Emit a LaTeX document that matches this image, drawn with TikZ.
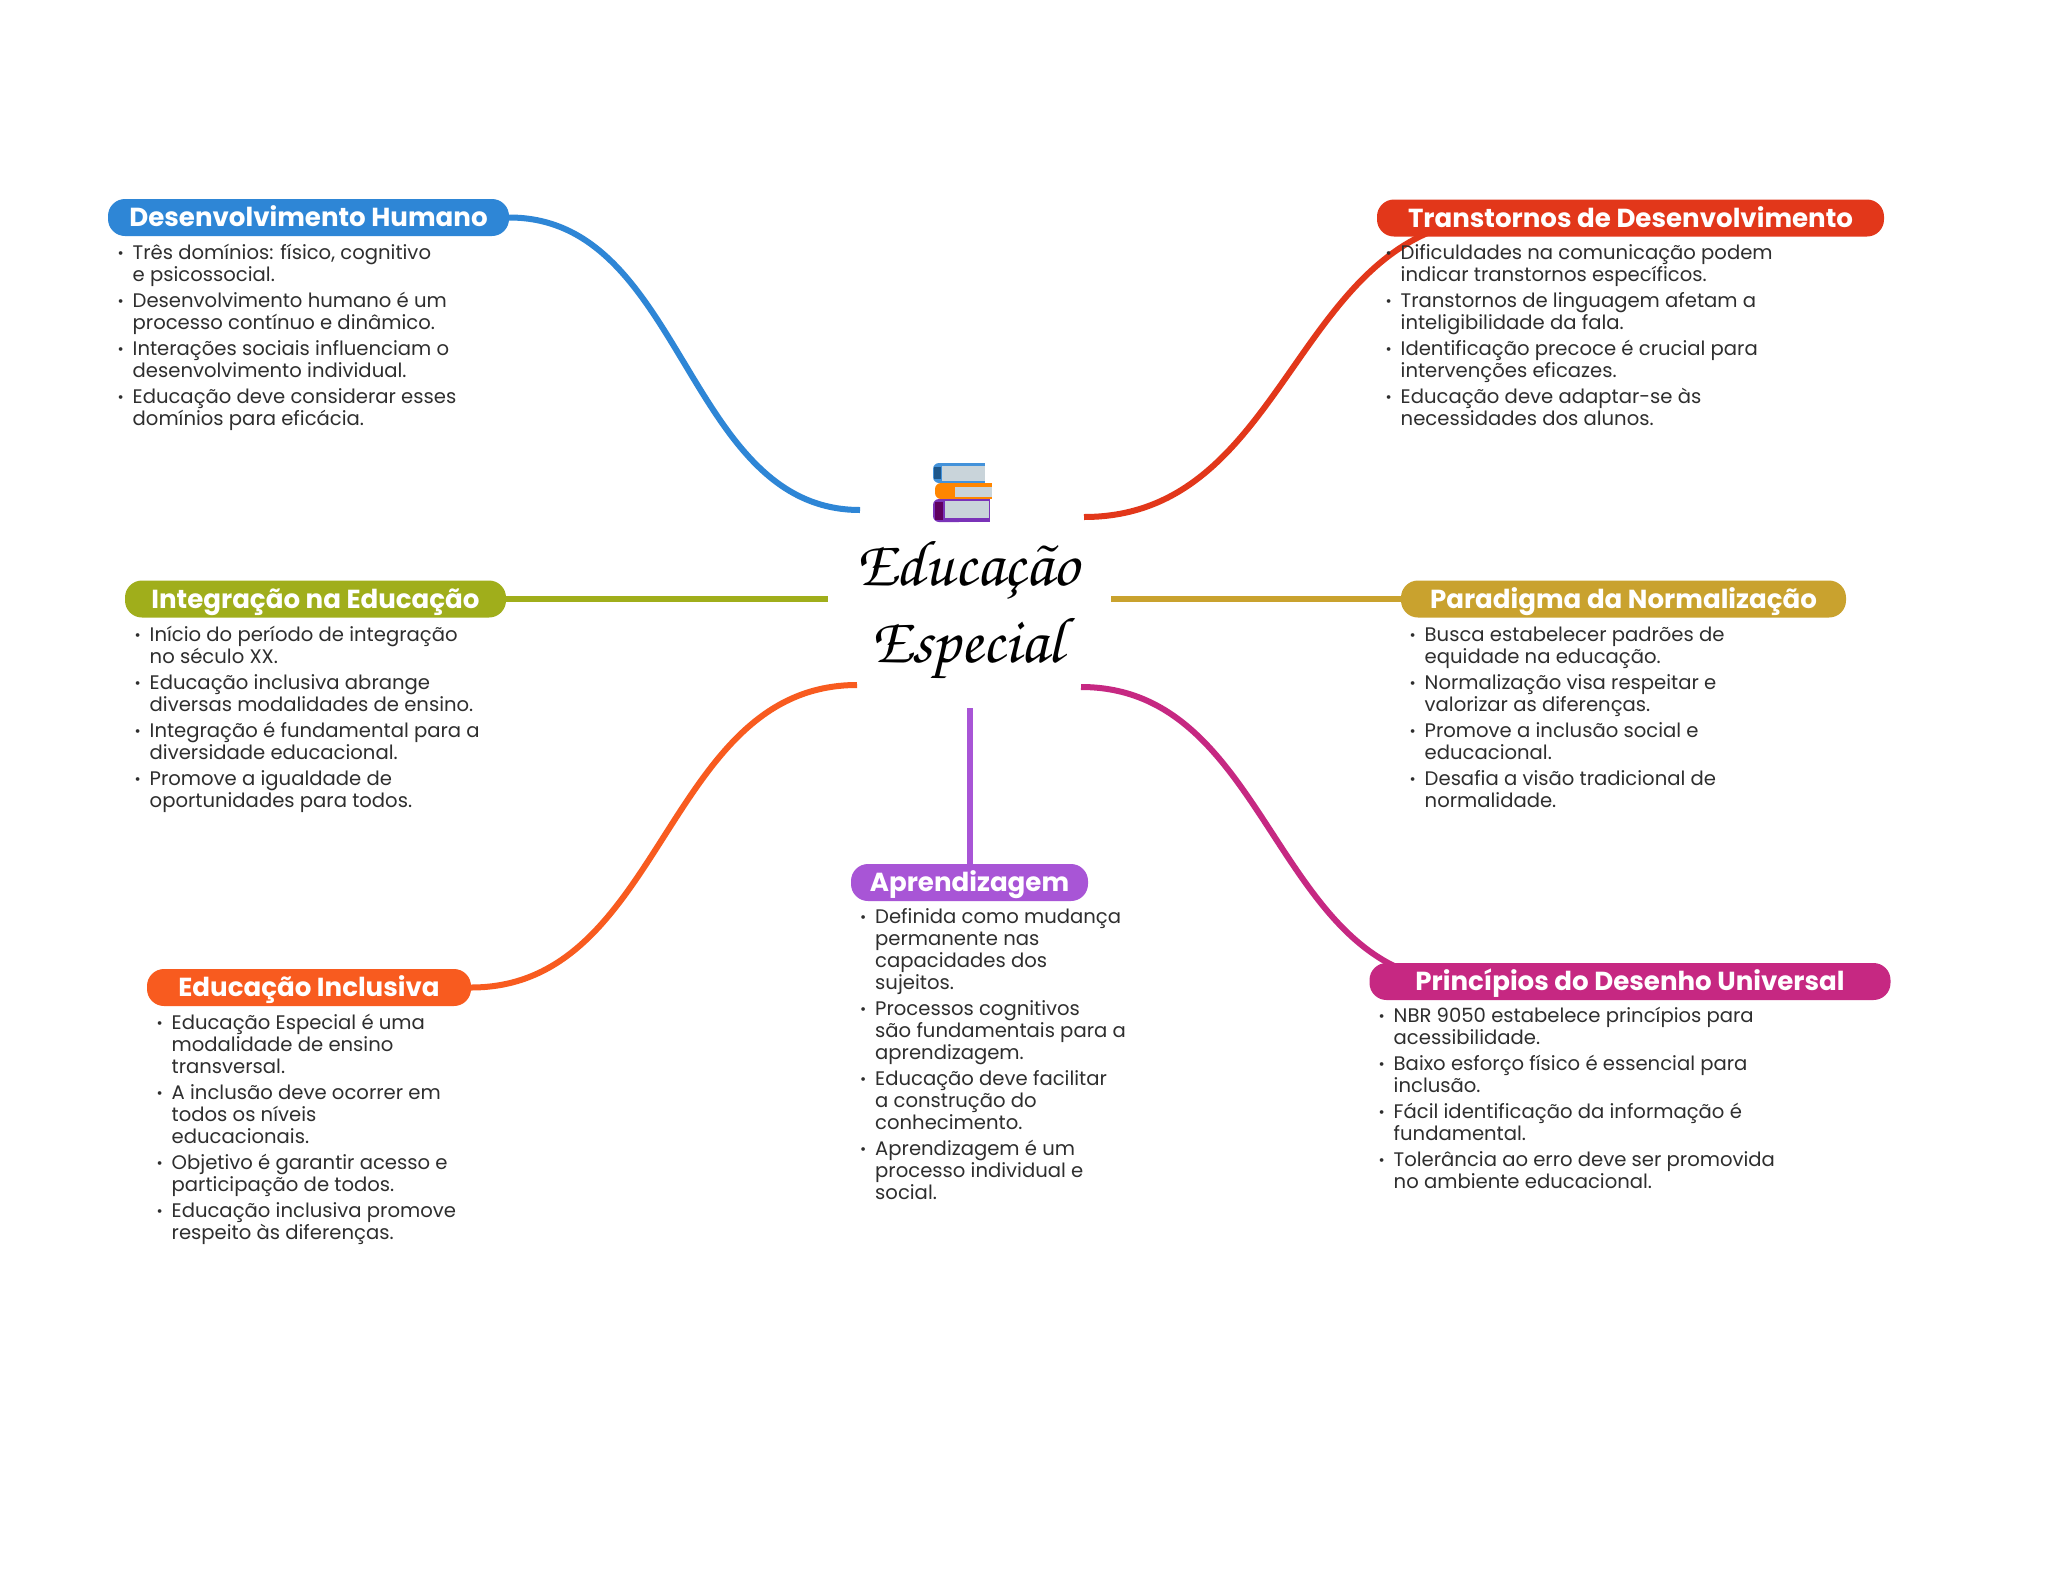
\documentclass[tikz,border=0pt]{standalone}
\usepackage{fontspec}
\setmainfont{Poppins}
\newfontfamily\titlefont{TeX Gyre Chorus}
\usetikzlibrary{backgrounds}
\definecolor{cblue}{HTML}{2E86D6}
\definecolor{cred}{HTML}{E2371A}
\definecolor{colive}{HTML}{A0AE1B}
\definecolor{cgold}{HTML}{C9A22E}
\definecolor{corange}{HTML}{F85B1F}
\definecolor{cpurple}{HTML}{A855D6}
\definecolor{cmag}{HTML}{C62882}
\definecolor{ctext}{HTML}{2E2E2E}
\definecolor{cpage}{HTML}{C9D4DA}
\newcommand{\bu}{\llap{\raisebox{1.2pt}{\fontsize{15}{15}\selectfont •}\hspace{9pt}}}
\newcommand{\fl}{\rule{0pt}{16pt}}
\newcommand{\nx}{\\[4pt]}
\tikzset{
  head/.style={fill=#1,rounded corners=17pt,inner sep=0pt,minimum height=37pt,text=white,
    font=\fontsize{26.1}{30}\selectfont\bfseries,text height=23pt,text depth=5pt},
  body/.style={anchor=north west,inner sep=0pt,align=left,text=ctext,font=\fontsize{19.62}{22}\selectfont},
  conn/.style={draw=#1,line width=6pt,line cap=butt},
  ttl/.style={inner sep=0pt,anchor=base,font=\titlefont\fontsize{65}{77}\selectfont,text=black}
}
\begin{document}
\begin{tikzpicture}[x=1pt,y=-1pt]
\useasboundingbox (0,0) rectangle (2048,1569);

% central title
\node[ttl] (t1) at (967,585) {Educação};
\node[ttl] (t2) at (967,662) {Especial};

% book icon
\fill[cblue!90!white,rounded corners=6pt] (933,463) rectangle (960,483);
\fill[cblue!90!white] (945,463) rectangle (985,483);
\fill[cblue!65!black] (934,467) rectangle (941,479);
\fill[cpage] (942,466) rectangle (985,481);
\fill[orange!95!yellow,rounded corners=6pt] (935,483) rectangle (965,499);
\fill[orange!95!yellow] (950,483) rectangle (992,499);
\fill[cpage] (955,487) rectangle (992,497);
\fill[violet!70!blue!80!white,rounded corners=6pt] (933,499) rectangle (965,522);
\fill[violet!70!blue!80!white] (950,499) rectangle (990,522);
\fill[violet!75!black] (935,502) rectangle (943,520);
\fill[cpage] (945,501) rectangle (989,518);

% heads
\node[head=cblue,minimum width=401pt] (hb) at (308.5,217.5) {Desenvolvimento Humano};
\node[head=cred,minimum width=507pt] (hr) at (1630.5,218) {Transtornos de Desenvolvimento};
\node[head=colive,minimum width=381pt] (ho) at (315.5,599) {Integração na Educação};
\node[head=cgold,minimum width=445pt] (hg) at (1623.5,599) {Paradigma da Normalização};
\node[head=corange,minimum width=324pt] (hi) at (309,987.5) {Educação Inclusiva};
\node[head=cpurple,minimum width=237pt] (hp) at (969.5,882.5) {Aprendizagem};
\node[head=cmag,minimum width=521pt] (hm) at (1630,981.5) {Princípios do Desenho Universal};

% bodies
\node[body] (tb) at (132.5,243) {\fl\bu Três domínios: físico, cognitivo\\e psicossocial.\nx
\bu Desenvolvimento humano é um\\processo contínuo e dinâmico.\nx
\bu Interações sociais influenciam o\\desenvolvimento individual.\nx
\bu Educação deve considerar esses\\domínios para eficácia.};
\node[body] (tr) at (1400.5,243) {\fl\bu Dificuldades na comunicação podem\\indicar transtornos específicos.\nx
\bu Transtornos de linguagem afetam a\\inteligibilidade da fala.\nx
\bu Identificação precoce é crucial para\\intervenções eficazes.\nx
\bu Educação deve adaptar-se às\\necessidades dos alunos.};
\node[body] (to) at (149.5,625) {\fl\bu Início do período de integração\\no século XX.\nx
\bu Educação inclusiva abrange\\diversas modalidades de ensino.\nx
\bu Integração é fundamental para a\\diversidade educacional.\nx
\bu Promove a igualdade de\\oportunidades para todos.};
\node[body] (tg) at (1424.5,625) {\fl\bu Busca estabelecer padrões de\\equidade na educação.\nx
\bu Normalização visa respeitar e\\valorizar as diferenças.\nx
\bu Promove a inclusão social e\\educacional.\nx
\bu Desafia a visão tradicional de\\normalidade.};
\node[body] (ti) at (171.5,1013) {\fl\bu Educação Especial é uma\\modalidade de ensino\\transversal.\nx
\bu A inclusão deve ocorrer em\\todos os níveis\\educacionais.\nx
\bu Objetivo é garantir acesso e\\participação de todos.\nx
\bu Educação inclusiva promove\\respeito às diferenças.};
\node[body] (tp) at (875,907.5) {\fl\bu Definida como mudança\\permanente nas\\capacidades dos\\sujeitos.\nx
\bu Processos cognitivos\\são fundamentais para a\\aprendizagem.\nx
\bu Educação deve facilitar\\a construção do\\conhecimento.\nx
\bu Aprendizagem é um\\processo individual e\\social.};
\node[body] (tm) at (1393.5,1006) {\fl\bu NBR 9050 estabelece princípios para\\acessibilidade.\nx
\bu Baixo esforço físico é essencial para\\inclusão.\nx
\bu Fácil identificação da informação é\\fundamental.\nx
\bu Tolerância ao erro deve ser promovida\\no ambiente educacional.};

% connector ends around the centre
\coordinate (cb) at (860,510);
\coordinate (cr) at (1084,517);
\coordinate (co) at (828,599);
\coordinate (cg) at (1111,599);
\coordinate (ci) at (857,685);
\coordinate (cm) at (1081,687);
\coordinate (cp) at (969.5,708);
\coordinate (rj) at (1502,218);
\coordinate (mj) at (1465,982);

\begin{scope}[on background layer]
\fill[white] (0,0) rectangle (2048,1569);
\draw[conn=cblue] (hb.east) .. controls +(175,0) and +(-175,0) .. (cb);
\draw[conn=cred] (cr) .. controls +(209,0) and +(-209,0) .. (rj);
\draw[conn=colive] (ho.east) -- (co);
\draw[conn=cgold] (cg) -- (hg.west);
\draw[conn=corange] (hi.east) .. controls +(193,0) and +(-193,0) .. (ci);
\draw[conn=cmag] (cm) .. controls +(192,0) and +(-192,0) .. (mj);
\draw[conn=cpurple] (cp) -- (hp.north);
\end{scope}
\end{tikzpicture}
\end{document}
